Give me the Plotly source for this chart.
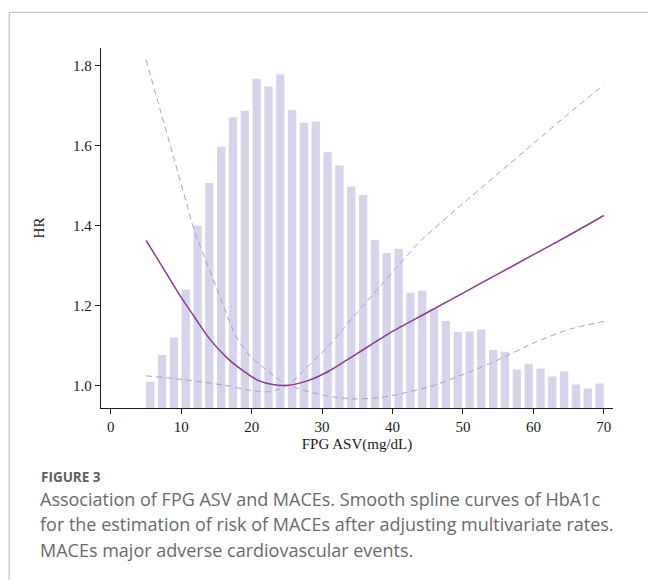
import plotly.graph_objects as go

# ---- data ----
bin_start = 4.76
bin_width = 1.679
hist_tops = [1.009, 1.076, 1.120, 1.240, 1.400, 1.506, 1.597, 1.671, 1.687, 1.767,
             1.748, 1.778, 1.689, 1.657, 1.660, 1.583, 1.550, 1.4975, 1.476, 1.3635,
             1.331, 1.342, 1.232, 1.237, 1.1925, 1.161, 1.1335, 1.135, 1.140, 1.0885,
             1.084, 1.040, 1.054, 1.042, 1.022, 1.035, 1.0025, 0.9925, 1.005]

hr_x = [5, 7, 10, 12, 14, 16.5, 19, 21, 23, 25, 28, 31, 35, 40, 45, 50, 55, 60, 65, 70]
hr_y = [1.363, 1.306, 1.220, 1.168, 1.117, 1.069, 1.034, 1.012, 1.002, 1.000,
        1.012, 1.036, 1.080, 1.135, 1.183, 1.231, 1.279, 1.327, 1.375, 1.425]

up_x = [5, 7, 9, 11, 12, 14, 16, 18, 20, 22, 23.5, 25, 27, 29, 31, 33, 35, 38, 41, 44, 50, 55, 60, 65, 70]
up_y = [1.815, 1.690, 1.566, 1.440, 1.380, 1.290, 1.198, 1.115, 1.070, 1.040, 1.020, 1.000,
        1.030, 1.065, 1.100, 1.142, 1.183, 1.243, 1.303, 1.362, 1.455, 1.530, 1.605, 1.680, 1.752]

lo_x = [5, 8, 11, 14, 17, 19, 21, 22.5, 24, 25, 26.5, 28, 30, 32, 35, 38, 40.6, 45.4, 50, 55, 60, 65, 70]
lo_y = [1.024, 1.019, 1.013, 1.006, 0.998, 0.990, 0.985, 0.984, 0.991, 1.000, 0.993, 0.985,
        0.976, 0.970, 0.966, 0.969, 0.977, 0.9975, 1.027, 1.064, 1.106, 1.140, 1.160]

x_ticks = [0, 10, 20, 30, 40, 50, 60, 70]
y_ticks = [1.0, 1.2, 1.4, 1.6, 1.8]

caption_head = "FIGURE 3"
caption_lines = [
    "Association of FPG ASV and MACEs. Smooth spline curves of HbA1c",
    "for the estimation of risk of MACEs after adjusting multivariate rates.",
    "MACEs major adverse cardiovascular events.",
]

# ---- layout geometry (pixels) ----
W, H = 648, 580
L, R, T, B = 101, 35, 48, 172
PW, PH = W - L - R, H - T - B


def px_x(x):
    return (x - L) / PW


def px_y(y):
    return (H - B - y) / PH


bar_x = [bin_start + bin_width * (i + 0.5) for i in range(len(hist_tops))]

SERIF = "Liberation Serif, Times New Roman, serif"
AX = "#1a1a1a"

fig = go.Figure()
fig.add_trace(go.Bar(x=bar_x, y=hist_tops, width=bin_width * 0.7,
                     marker=dict(color="#D6D4EB", line=dict(width=0)),
                     hoverinfo="skip"))
fig.add_trace(go.Scatter(x=up_x, y=up_y, mode="lines",
                         line=dict(color="#A29EDB", width=1, dash="6px,4px", shape="spline", smoothing=0.6),
                         hoverinfo="skip"))
fig.add_trace(go.Scatter(x=lo_x, y=lo_y, mode="lines",
                         line=dict(color="#A29EDB", width=1, dash="6px,4px", shape="spline", smoothing=0.6),
                         hoverinfo="skip"))
fig.add_trace(go.Scatter(x=hr_x, y=hr_y, mode="lines",
                         line=dict(color="#8B3A8F", width=1.5, shape="spline", smoothing=0.8),
                         hoverinfo="skip"))

fig.update_layout(
    width=W, height=H, autosize=False,
    margin=dict(l=L, r=R, t=T, b=B, pad=0),
    paper_bgcolor="white", plot_bgcolor="white",
    showlegend=False,
    font=dict(family=SERIF, size=15, color=AX),
    xaxis=dict(range=[-1.39, 71.3], tickvals=x_ticks, ticks="outside", ticklen=5,
               tickcolor=AX, tickwidth=1, showline=True, linecolor=AX,
               linewidth=1.3, showgrid=False, zeroline=False,
               title=dict(text="FPG ASV(mg/dL)", standoff=4,
                          font=dict(family=SERIF, size=15, color=AX)),
               tickfont=dict(family=SERIF, size=15, color=AX)),
    yaxis=dict(range=[0.9435, 1.844], tickvals=y_ticks, tickformat=".1f", ticks="outside",
               ticklen=5, tickcolor=AX, tickwidth=1, showline=True,
               linecolor=AX, linewidth=1.3, showgrid=False, zeroline=False,
               title=dict(text="HR", standoff=24,
                          font=dict(family=SERIF, size=15, color=AX)),
               tickfont=dict(family=SERIF, size=15, color=AX)),
    shapes=[
        dict(type="line", xref="paper", yref="paper", x0=px_x(9.3), x1=px_x(W + 5),
             y0=px_y(12.3), y1=px_y(12.3), line=dict(color="#C8C8C8", width=1.3)),
        dict(type="line", xref="paper", yref="paper", x0=px_x(9.3), x1=px_x(9.3),
             y0=px_y(12.3), y1=px_y(H + 5), line=dict(color="#C8C8C8", width=1.3)),
    ],
)

SANS = "Open Sans, Noto Sans, sans-serif"
ann = [dict(text="<b>" + caption_head + "</b>", xref="paper", yref="paper",
            x=px_x(39), y=px_y(484 + 4), xanchor="left", yanchor="bottom",
            showarrow=False, font=dict(family=SANS, size=13.5, color="#5f5f5f"))]
baselines = [507.5, 533, 558.5]
for line, bl in zip(caption_lines, baselines):
    ann.append(dict(text=line, xref="paper", yref="paper", x=px_x(38), y=px_y(bl + 5),
                    xanchor="left", yanchor="bottom", showarrow=False,
                    font=dict(family=SANS, size=18, color="#6a6a6a")))
fig.update_layout(annotations=ann)

fig.write_html("out.html", config={"displayModeBar": False})
